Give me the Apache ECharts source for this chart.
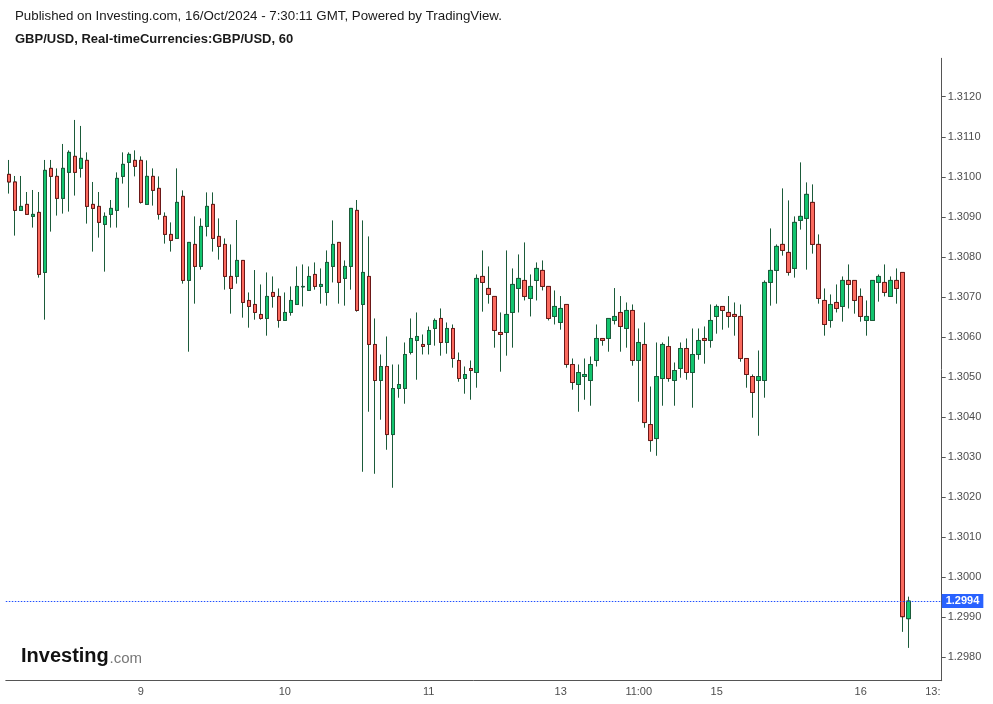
<!DOCTYPE html>
<html>
<head>
<meta charset="utf-8">
<script src="https://cdn.jsdelivr.net/npm/echarts@6/dist/echarts.min.js"></script>
<style>
html,body{margin:0;padding:0;background:#fff;}
#chart{width:993px;height:704px;}
</style>
</head>
<body>
<div id="chart"></div>
<script>
// Trading sessions (day, first hour, last hour) – hourly bars, 16th extends to the axis edge
const sessions = [['08',2,23],['09',0,23],['10',0,23],['11',0,21],['13',22,23],['14',0,23],['15',0,23],['16',0,13]];
const tickLabels = {'09 00:00':'9','10 00:00':'10','11 00:00':'11','13 22:00':'13','14 11:00':'11:00','15 00:00':'15','16 00:00':'16'};
const priceTicks = [1.2980,1.2990,1.3000,1.3010,1.3020,1.3030,1.3040,1.3050,1.3060,1.3070,1.3080,1.3090,1.3100,1.3110,1.3120];

const opens = [
1.31006,1.30987,1.30916,1.30931,1.30901,1.30911,1.30761,1.31021,1.31001,1.30946,
1.31011,1.31051,1.31021,1.31041,1.30931,1.30926,1.30881,1.30906,1.30916,1.31001,
1.31036,1.31041,1.31041,1.30931,1.31001,1.30971,1.30901,1.30856,1.30846,1.30951,
1.30741,1.30831,1.30776,1.30876,1.30931,1.30851,1.30831,1.30751,1.30751,1.30791,
1.30691,1.30681,1.30656,1.30646,1.30711,1.30701,1.30641,1.30661,1.30681,1.30725,
1.30716,1.30756,1.30726,1.30711,1.30776,1.30836,1.30746,1.30776,1.30916,1.30681,
1.30751,1.30581,1.30491,1.30526,1.30356,1.30471,1.30471,1.30561,1.30591,1.30581,
1.30581,1.30621,1.30646,1.30586,1.30621,1.30541,1.30496,1.30521,1.30511,1.30751,
1.30721,1.30701,1.30611,1.30611,1.30661,1.30721,1.30741,1.30696,1.30741,1.30766,
1.30726,1.30651,1.30636,1.30681,1.30531,1.30481,1.30501,1.30491,1.30541,1.30596,
1.30596,1.30641,1.30661,1.30621,1.30666,1.30541,1.30581,1.30381,1.30346,1.30496,
1.30576,1.30491,1.30521,1.30571,1.30511,1.30556,1.30596,1.30591,1.30651,1.30676,
1.30661,1.30656,1.30651,1.30546,1.30501,1.30491,1.30491,1.30736,1.30766,1.30831,
1.30811,1.30771,1.30891,1.30896,1.30936,1.30831,1.30691,1.30641,1.30686,1.30676,
1.30741,1.30741,1.30701,1.30641,1.30641,1.30736,1.30736,1.30701,1.30741,1.30761,
1.29896];
const closes = [
1.30987,1.30916,1.30926,1.30906,1.30906,1.30756,1.31016,1.31001,1.30946,1.31021,
1.31061,1.31011,1.31046,1.30926,1.30921,1.30886,1.30901,1.30921,1.30996,1.31031,
1.31056,1.31026,1.30936,1.31001,1.30966,1.30906,1.30856,1.30841,1.30936,1.30741,
1.30836,1.30776,1.30876,1.30926,1.30846,1.30826,1.30751,1.30721,1.30791,1.30686,
1.30676,1.30661,1.30646,1.30701,1.30701,1.30641,1.30661,1.30691,1.30726,1.30726,
1.30751,1.30726,1.30731,1.30786,1.30831,1.30736,1.30776,1.30921,1.30666,1.30761,
1.30581,1.30491,1.30526,1.30356,1.30471,1.30481,1.30556,1.30596,1.30601,1.30576,
1.30616,1.30641,1.30586,1.30621,1.30546,1.30496,1.30506,1.30516,1.30746,1.30736,
1.30706,1.30616,1.30606,1.30656,1.30731,1.30746,1.30701,1.30726,1.30771,1.30726,
1.30646,1.30676,1.30671,1.30531,1.30486,1.30511,1.30506,1.30531,1.30596,1.30591,
1.30646,1.30651,1.30626,1.30666,1.30541,1.30586,1.30386,1.30341,1.30501,1.30581,
1.30496,1.30516,1.30571,1.30511,1.30556,1.30591,1.30591,1.30641,1.30676,1.30666,
1.30651,1.30651,1.30546,1.30506,1.30461,1.30501,1.30736,1.30766,1.30826,1.30816,
1.30761,1.30886,1.30901,1.30956,1.30831,1.30696,1.30631,1.30681,1.30671,1.30741,
1.30731,1.30691,1.30651,1.30651,1.30741,1.30751,1.30711,1.30741,1.30721,1.29901,
1.29940];
const lows = [
1.30958,1.30853,1.30916,1.30906,1.30873,1.30748,1.30643,1.30863,1.30903,1.30908,
1.30913,1.30953,1.30998,1.30883,1.30813,1.30848,1.30763,1.30873,1.30873,1.30983,
1.30923,1.31001,1.30933,1.30931,1.30928,1.30893,1.30833,1.30813,1.30846,1.30733,
1.30563,1.30683,1.30768,1.30851,1.30813,1.30793,1.30718,1.30658,1.30733,1.30648,
1.30623,1.30643,1.30643,1.30603,1.30673,1.30623,1.30641,1.30653,1.30681,1.30676,
1.30716,1.30718,1.30683,1.30678,1.30736,1.30683,1.30678,1.30718,1.30663,1.30263,
1.30413,1.30258,1.30393,1.30318,1.30223,1.30448,1.30433,1.30556,1.30493,1.30556,
1.30556,1.30578,1.30553,1.30558,1.30523,1.30488,1.30458,1.30443,1.30473,1.30663,
1.30683,1.30573,1.30513,1.30553,1.30573,1.30661,1.30691,1.30651,1.30691,1.30716,
1.30641,1.30631,1.30618,1.30523,1.30468,1.30413,1.30443,1.30428,1.30526,1.30578,
1.30563,1.30631,1.30563,1.30573,1.30528,1.30438,1.30373,1.30313,1.30303,1.30428,
1.30488,1.30428,1.30498,1.30493,1.30423,1.30543,1.30533,1.30573,1.30608,1.30618,
1.30623,1.30603,1.30538,1.30473,1.30398,1.30353,1.30448,1.30678,1.30683,1.30803,
1.30753,1.30748,1.30868,1.30768,1.30808,1.30683,1.30603,1.30623,1.30661,1.30638,
1.30671,1.30658,1.30638,1.30603,1.30641,1.30688,1.30701,1.30701,1.30683,1.29863,
1.29823];
const highs = [
1.31042,1.31002,1.31002,1.30962,1.30967,1.30962,1.31042,1.31042,1.31021,1.31082,
1.31066,1.31142,1.31127,1.31061,1.30987,1.30962,1.30911,1.30942,1.31011,1.31061,
1.31061,1.31066,1.31051,1.31041,1.31021,1.31001,1.30911,1.30886,1.31021,1.30966,
1.30836,1.30901,1.30896,1.30961,1.30961,1.30896,1.30846,1.30831,1.30892,1.30791,
1.30711,1.30767,1.30731,1.30761,1.30751,1.30721,1.30711,1.30726,1.30776,1.30781,
1.30776,1.30786,1.30771,1.30816,1.30891,1.30836,1.30791,1.30921,1.30942,1.30891,
1.30851,1.30646,1.30556,1.30601,1.30531,1.30531,1.30586,1.30646,1.30661,1.30606,
1.30626,1.30646,1.30671,1.30636,1.30631,1.30561,1.30526,1.30541,1.30756,1.30816,
1.30776,1.30701,1.30661,1.30816,1.30771,1.30806,1.30836,1.30756,1.30786,1.30791,
1.30726,1.30716,1.30702,1.30681,1.30546,1.30531,1.30546,1.30551,1.30631,1.30596,
1.30646,1.30722,1.30702,1.30686,1.30681,1.30621,1.30636,1.30476,1.30586,1.30586,
1.30601,1.30536,1.30586,1.30596,1.30621,1.30621,1.30626,1.30681,1.30681,1.30676,
1.30702,1.30686,1.30681,1.30546,1.30506,1.30566,1.30741,1.30871,1.30831,1.30971,
1.30941,1.30901,1.31036,1.30986,1.30981,1.30856,1.30721,1.30706,1.30731,1.30751,
1.30781,1.30741,1.30721,1.30691,1.30741,1.30756,1.30781,1.30751,1.30771,1.30761,
1.29951];

const categories = [];
sessions.forEach(function (s) {
  for (let h = s[1]; h <= s[2]; h++) categories.push(s[0] + ' ' + String(h).padStart(2, '0') + ':00');
});

const wickData = opens.map(function (o, i) { return [o, closes[i], lows[i], highs[i]]; });
const bodyData = opens.map(function (o, i) { const c = closes[i]; return [o, c, Math.min(o, c), Math.max(o, c)]; });
const lastClose = closes[closes.length - 1];

const GREEN = '#12c46e', GREEN_D = '#1b5b3a', RED = '#fb6a5e', RED_D = '#6b1717', WICK = '#1b5b3a';
const FONT = '"Liberation Sans", Arial, sans-serif';

const chart = echarts.init(document.getElementById('chart'), null, {renderer: 'canvas'});
chart.setOption({
  animation: false,
  backgroundColor: '#ffffff',
  grid: {left: 5.8, right: 51.3, top: 58.3, bottom: 23.3, containLabel: false},
  xAxis: {
    type: 'category',
    data: categories,
    boundaryGap: true,
    axisLine: {show: true, lineStyle: {color: '#555555', width: 1}},
    axisTick: {show: false},
    splitLine: {show: false},
    axisLabel: {
      interval: function (i, v) { return tickLabels[v] !== undefined; },
      formatter: function (v) { return tickLabels[v] || ''; },
      color: '#4d4d4d', fontSize: 11, fontFamily: FONT, margin: 6
    }
  },
  yAxis: {
    type: 'value',
    position: 'right',
    min: 1.29741,
    max: 1.31296,
    scale: true,
    axisLine: {show: true, lineStyle: {color: '#555555', width: 1}},
    axisTick: {show: true, length: 4, lineStyle: {color: '#555555'}, customValues: priceTicks},
    splitLine: {show: false},
    axisLabel: {
      customValues: priceTicks,
      formatter: function (v) { return v.toFixed(4); },
      color: '#4d4d4d', fontSize: 11, fontFamily: FONT, margin: 6
    }
  },
  series: [
    {
      name: 'wicks',
      type: 'candlestick',
      data: wickData,
      barWidth: 4,
      silent: true,
      itemStyle: {color: WICK, color0: WICK, borderColor: WICK, borderColor0: WICK, borderWidth: 1}
    },
    {
      name: 'GBP/USD',
      type: 'candlestick',
      data: bodyData,
      barWidth: 4,
      silent: true,
      itemStyle: {color: GREEN, color0: RED, borderColor: GREEN_D, borderColor0: RED_D, borderWidth: 1},
      markLine: {
        silent: true,
        symbol: 'none',
        animation: false,
        precision: 5,
        data: [{yAxis: lastClose}],
        lineStyle: {color: '#1f4fff', type: [1.5, 1.5], width: 1.2, opacity: 1},
        emphasis: {disabled: true},
        label: {
          show: true, position: 'end', distance: 0,
          formatter: function () { return lastClose.toFixed(4); },
          backgroundColor: '#2962ff', color: '#ffffff',
          fontSize: 11, fontWeight: 'bold', fontFamily: FONT,
          padding: [2, 4, 1, 4]
        }
      }
    }
  ],
  graphic: [
    {type: 'text', left: 15, top: 10, style: {text: 'Published on Investing.com, 16/Oct/2024 - 7:30:11 GMT, Powered by TradingView.', font: '13.3px ' + FONT, fill: '#1a1a1a'}},
    {type: 'text', left: 15, top: 33, style: {text: 'GBP/USD, Real-timeCurrencies:GBP/USD, 60', font: 'bold 13px ' + FONT, fill: '#1a1a1a'}},
    {type: 'text', x: 940.5, y: 692, style: {text: '13:', font: '11px ' + FONT, fill: '#4d4d4d', textAlign: 'right', textVerticalAlign: 'middle'}},
    {type: 'text', x: 21, y: 656.5, style: {text: 'Investing', font: 'bold 20px ' + FONT, fill: '#111111', textVerticalAlign: 'middle'}},
    {type: 'text', x: 109.5, y: 658.5, style: {text: '.com', font: '15px ' + FONT, fill: '#777777', textVerticalAlign: 'middle'}}
  ]
});
</script>
</body>
</html>
